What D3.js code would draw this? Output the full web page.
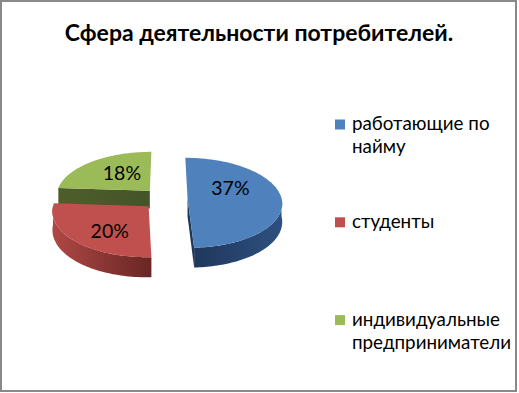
<!DOCTYPE html>
<html><head><meta charset="utf-8">
<script src="https://cdn.jsdelivr.net/npm/d3@7"></script>
<style>body{margin:0;background:#fff}svg{display:block}</style>
</head><body>
<svg id="chart" width="519" height="393"></svg>
<script>
// ---- data ----
const title = "Сфера деятельности потребителей.";
const categories = ["работающие по найму", "студенты", "индивидуальные предприниматели"];
const legendLines = [["работающие по", "найму"], ["студенты"], ["индивидуальные", "предприниматели"]];
const values = [37, 20, 18];
const valueLabels = ["37%", "20%", "18%"];

// ---- style / layout ----
const topColors = ["#4F81BD", "#C0504D", "#9BBB59"];
const wallColors = [["#1E3558", "#2E5080"], ["#AE4845", "#682624"], ["#4E5E2A", "#45532A"]];
const labelNudge = [[-4, -10], [-3, 8], [2, -2]];
const W = 519, H = 393;
const CX = 165, CY = 198.5, RX = 94, RY = 45, P = 0.1, D = 18, EXPLODE = 0.24;
const FONT = "Lato, 'Open Sans', 'DejaVu Sans', sans-serif";

const svg = d3.select("#chart");
const defs = svg.append("defs");

svg.append("rect").attr("x", 1).attr("y", 1).attr("width", W - 4).attr("height", H - 3)
  .attr("fill", "#fff").attr("stroke", "#898989").attr("stroke-width", 2);

svg.append("text").attr("x", 259).attr("y", 41).attr("text-anchor", "middle")
  .attr("font-family", FONT).attr("font-weight", "bold").attr("font-size", 23)
  .attr("fill", "#000").text(title);

const color = d3.scaleOrdinal().domain(categories).range(topColors);

// projection of disc coordinates (u right, v toward viewer, h depth 0..1)
const proj = (u, v, h) => { const s = 1 + P * v; return [CX + u * RX * s, CY + v * RY * s + h * D * s]; };

const pie = d3.pie().sort(null).value(d => d).startAngle(0).endAngle(2 * Math.PI);
const arcs = pie(values).map((a, i) => {
  const mid = (a.startAngle + a.endAngle) / 2;
  return { ...a, i, mid, ox: EXPLODE * Math.sin(mid), oy: -EXPLODE * Math.cos(mid) };
});

const line = d3.line();
function rim(a, t0, t1, h, n) {
  const pts = [];
  for (let k = 0; k <= n; k++) {
    const t = t0 + (t1 - t0) * k / n;
    pts.push(proj(a.ox + Math.sin(t), a.oy - Math.cos(t), h));
  }
  return pts;
}

// back to front
const order = arcs.slice().sort((a, b) => a.oy - b.oy);
const g = svg.append("g");

order.forEach(a => {
  const i = a.i;
  const gid = "wall" + i;
  const xs = rim(a, a.startAngle, a.endAngle, 0, 40).map(p => p[0]);
  const lg = defs.append("linearGradient").attr("id", gid).attr("gradientUnits", "userSpaceOnUse")
    .attr("x1", d3.min(xs)).attr("x2", d3.max(xs)).attr("y1", 0).attr("y2", 0);
  lg.append("stop").attr("offset", 0).attr("stop-color", wallColors[i][0]);
  lg.append("stop").attr("offset", 1).attr("stop-color", wallColors[i][1]);

  const c0 = proj(a.ox, a.oy, 0), c1 = proj(a.ox, a.oy, 1);
  [[a.startAngle, -1], [a.endAngle, 1]].forEach(([t, sg]) => {
    const nv = sg * Math.sin(t);
    if (nv > 0.001) {
      const p0 = proj(a.ox + Math.sin(t), a.oy - Math.cos(t), 0);
      const p1 = proj(a.ox + Math.sin(t), a.oy - Math.cos(t), 1);
      g.append("path").attr("d", line([c0, p0, p1, c1]) + "Z").attr("fill", `url(#${gid})`);
    }
  });
  const t0 = Math.max(a.startAngle, Math.PI / 2), t1 = Math.min(a.endAngle, 3 * Math.PI / 2);
  if (t1 > t0) {
    const top = rim(a, t0, t1, 0, 60), bot = rim(a, t0, t1, 1, 60).reverse();
    g.append("path").attr("d", line(top.concat(bot)) + "Z").attr("fill", `url(#${gid})`);
  }
  const pts = [c0].concat(rim(a, a.startAngle, a.endAngle, 0, 80));
  g.append("path").attr("d", line(pts) + "Z").attr("fill", color(categories[i]));
});

// value labels
arcs.forEach(a => {
  const r = 0.5;
  const p = proj(a.ox + r * Math.sin(a.mid), a.oy - r * Math.cos(a.mid), 0);
  svg.append("text").attr("x", p[0] + labelNudge[a.i][0]).attr("y", p[1] + labelNudge[a.i][1])
    .attr("dy", "0.35em").attr("text-anchor", "middle")
    .attr("font-family", FONT).attr("font-size", 19.5).attr("fill", "#000")
    .text(valueLabels[a.i]);
});

// legend
const lgd = svg.append("g");
categories.forEach((c, i) => {
  const y = 119.5 + i * 97.8;
  lgd.append("rect").attr("x", 335).attr("y", y).attr("width", 10).attr("height", 10).attr("fill", color(c));
  legendLines[i].forEach((t, j) => {
    lgd.append("text").attr("x", 352).attr("y", y + 10.5 + j * 23.3)
      .attr("font-family", FONT).attr("font-size", 18.8).attr("fill", "#000").text(t);
  });
});
</script>
</body></html>
